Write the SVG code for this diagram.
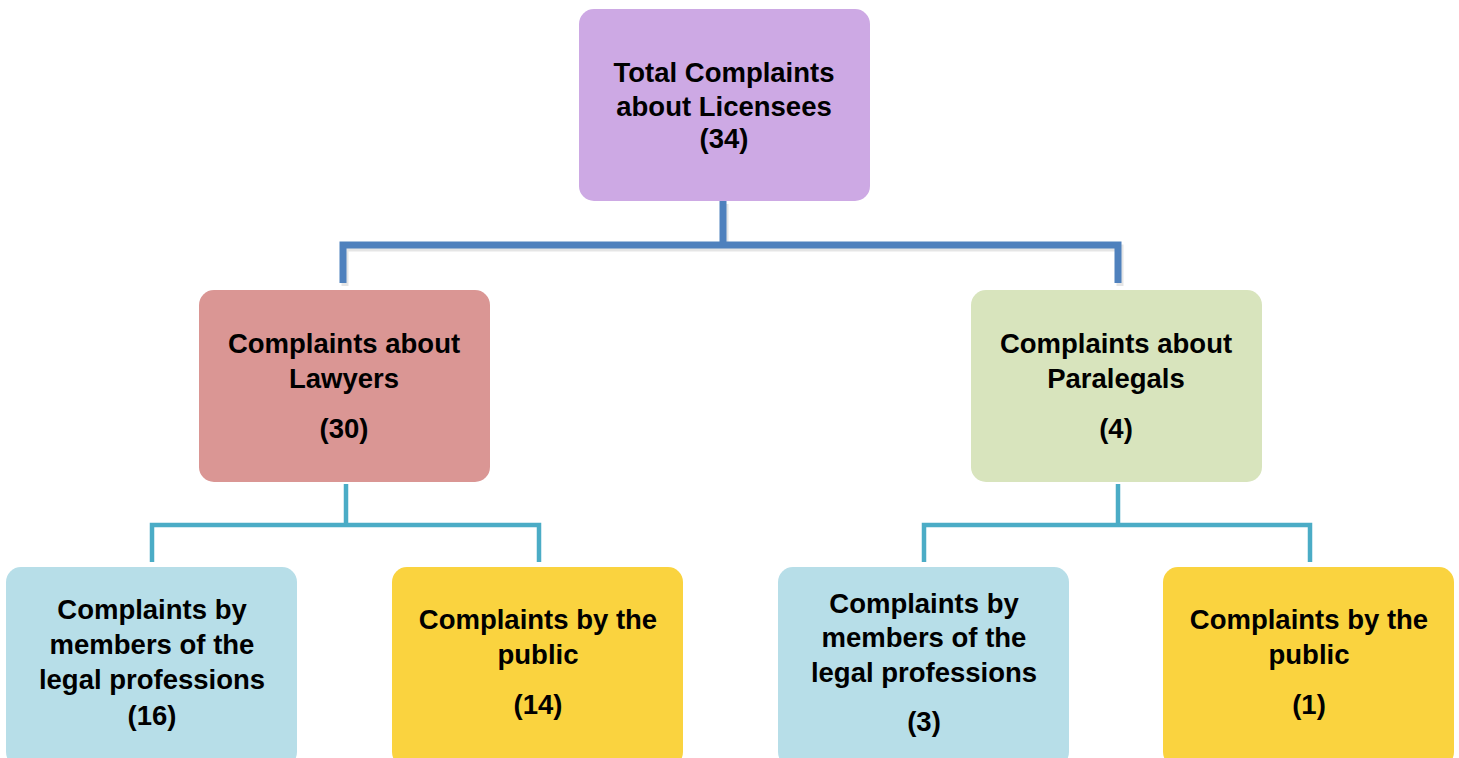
<svg xmlns="http://www.w3.org/2000/svg" width="1459" height="758" viewBox="0 0 1459 758">
<style>
  .t { font-family: "Liberation Sans", Arial, sans-serif; font-weight: bold; font-size: 27.5px; fill: #000; text-anchor: middle; }
  .c1 { fill: none; stroke: #4F81BD; stroke-width: 7; }
  .c1s { fill: none; stroke: #000; stroke-opacity: 0.1; stroke-width: 7; }
  .c2 { fill: none; stroke: #4BACC6; stroke-width: 4.5; }
</style>
<rect width="1459" height="758" fill="#FFFFFF"/>
<g id="connectors">
  <path class="c1s" d="M725,204 V248 M345,286 V248 H1120 V286"/>
  <path class="c1" d="M723,201 V245 M343,283 V245 H1118 V283"/>
  <path class="c2" d="M346,484 V525 M152,562 V525 H539 V562"/>
  <path class="c2" d="M1118,484 V525 M924,562 V525 H1310 V562"/>
</g>
<g id="total">
  <rect x="579" y="9" width="291" height="192" rx="15" fill="#CDA9E4"/>
  <text class="t" x="724" y="82">Total Complaints</text>
  <text class="t" x="724" y="116">about Licensees</text>
  <text class="t" x="724" y="148">(34)</text>
</g>
<g id="lawyers">
  <rect x="199" y="290" width="291" height="192" rx="15" fill="#DA9694"/>
  <text class="t" x="344" y="353">Complaints about</text>
  <text class="t" x="344" y="388">Lawyers</text>
  <text class="t" x="344" y="438">(30)</text>
</g>
<g id="paralegals">
  <rect x="971" y="290" width="291" height="192" rx="15" fill="#D8E4BD"/>
  <text class="t" x="1116" y="353">Complaints about</text>
  <text class="t" x="1116" y="388">Paralegals</text>
  <text class="t" x="1116" y="438">(4)</text>
</g>
<g id="lawyers-legal">
  <rect x="6" y="567" width="291" height="200" rx="15" fill="#B7DEE8"/>
  <text class="t" x="152" y="619">Complaints by</text>
  <text class="t" x="152" y="654">members of the</text>
  <text class="t" x="152" y="689">legal professions</text>
  <text class="t" x="152" y="725">(16)</text>
</g>
<g id="lawyers-public">
  <rect x="392" y="567" width="291" height="200" rx="15" fill="#FAD33F"/>
  <text class="t" x="538" y="629">Complaints by the</text>
  <text class="t" x="538" y="664">public</text>
  <text class="t" x="538" y="714">(14)</text>
</g>
<g id="paralegals-legal">
  <rect x="778" y="567" width="291" height="200" rx="15" fill="#B7DEE8"/>
  <text class="t" x="924" y="613">Complaints by</text>
  <text class="t" x="924" y="647">members of the</text>
  <text class="t" x="924" y="682">legal professions</text>
  <text class="t" x="924" y="731">(3)</text>
</g>
<g id="paralegals-public">
  <rect x="1163" y="567" width="291" height="200" rx="15" fill="#FAD33F"/>
  <text class="t" x="1309" y="629">Complaints by the</text>
  <text class="t" x="1309" y="664">public</text>
  <text class="t" x="1309" y="714">(1)</text>
</g>
</svg>
